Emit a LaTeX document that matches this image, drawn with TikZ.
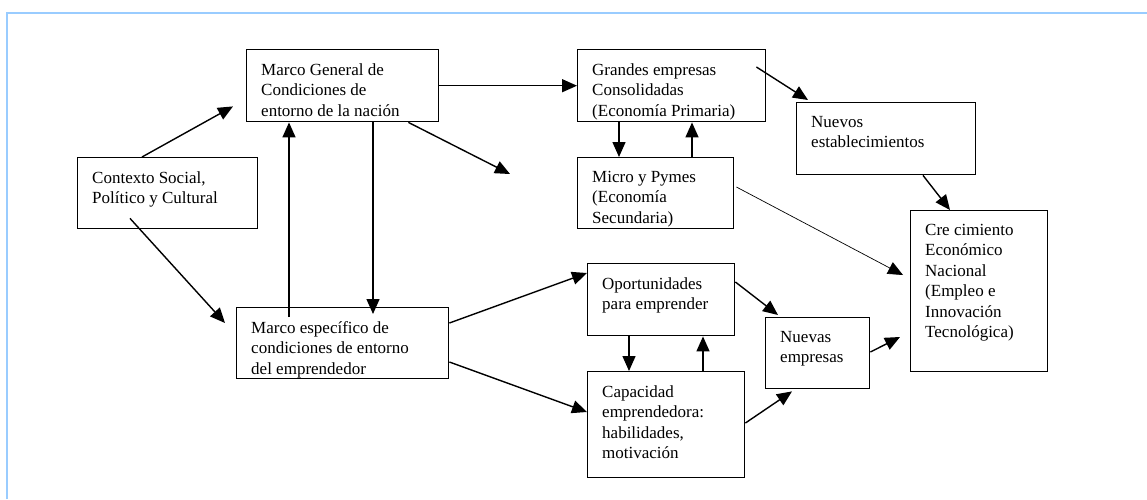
\documentclass[tikz,border=0pt]{standalone}
\usepackage{fontspec}
\setmainfont{Liberation Serif}
\usepackage{tikz}
\usetikzlibrary{arrows.meta,calc}
\definecolor{framebl}{RGB}{153,204,255}

\tikzset{
  box/.style={draw, line width=1.4pt, anchor=north west, inner sep=0pt},
  txt/.style={anchor=north west, align=left, inner xsep=15pt, inner ysep=14pt,
    font=\fontsize{17}{20.5}\selectfont},
  arr/.style={line width=1.4pt, -{Triangle[length=15pt,width=13pt]}},
}

\begin{document}
\begin{tikzpicture}[x=1pt, y=-1pt]
\useasboundingbox (0,0) rectangle (1147,499);
%%%%% Frame %%%%%
\draw[framebl, line width=2pt] (7,499) -- (7,13) -- (1147,13);
%%%%% Boxes %%%%%
\node[box, minimum width=180pt, minimum height=71pt] (ctx) at (77,157) {};
\node[box, minimum width=192pt, minimum height=72pt] (gen) at (246,49) {};
\node[box, minimum width=212pt, minimum height=71pt] (esp) at (236,307) {};
\node[box, minimum width=188pt, minimum height=72pt] (gra) at (577,49) {};
\node[box, minimum width=156pt, minimum height=71pt] (mic) at (577,157) {};
\node[box, minimum width=179pt, minimum height=72pt] (est) at (796,102) {};
\node[box, minimum width=137pt, minimum height=161pt] (cre) at (910,210) {};
\node[box, minimum width=147pt, minimum height=72pt] (opo) at (587,263) {};
\node[box, minimum width=157pt, minimum height=106pt] (cap) at (587,371) {};
\node[box, minimum width=104pt, minimum height=71pt] (nue) at (765,317) {};
%%%%% Texts %%%%%
\node[txt] (ctxt) at (ctx.north west) {Contexto Social,\\Político y Cultural};
\node[txt] (gent) at (gen.north west) {Marco General de\\Condiciones de\\entorno de la nación};
\node[txt] (espt) at (esp.north west) {Marco específico de\\condiciones de entorno\\del emprendedor};
\node[txt] (grat) at (gra.north west) {Grandes empresas\\Consolidadas\\(Economía Primaria)};
\node[txt] (mict) at (mic.north west) {Micro y Pymes\\(Economía\\Secundaria)};
\node[txt] (estt) at (est.north west) {Nuevos\\establecimientos};
\node[txt] (cret) at (cre.north west) {Cre cimiento\\Económico\\Nacional\\(Empleo e\\Innovación\\Tecnológica)};
\node[txt] (opot) at (opo.north west) {Oportunidades\\para emprender};
\node[txt] (capt) at (cap.north west) {Capacidad\\emprendedora:\\habilidades,\\motivación};
\node[txt] (nuet) at (nue.north west) {Nuevas\\empresas};
%%%%% Arrows %%%%%
\draw[arr] ($(ctx.north west)+(65,0)$) -- ($(gen.south west)+(-13,-16)$);
\draw[arr] ($(ctx.south west)+(53,-11)$) -- ($(esp.north west)+(-11,16)$);
\draw[arr] ($(esp.north west)+(53,10)$) coordinate (up) -- (up |- gen.south);
\draw[arr] ($(gen.south west)+(127,0)$) coordinate (dn) -- ($(dn |- esp.north)+(0,7)$);
\draw[arr] (gen.east) -- (gra.west);
\draw[arr] ($(gen.south east)+(-31,0)$) -- ($(mic.north west)+(-67,17)$);
\draw[arr] ($(gra.south west)+(42,0)$) coordinate (gm) -- (gm |- mic.north);
\draw[arr] ($(mic.north west)+(115,0)$) coordinate (mg) -- (mg |- gra.south);
\draw[arr] ($(gra.north east)+(-10,18)$) -- ($(est.north west)+(12,-2)$);
\draw[arr] ($(est.south west)+(127,0)$) -- ($(cre.north west)+(40,0)$);
\draw[line width=0.7pt, -{Triangle[length=15pt,width=13pt]}] ($(mic.north east)+(2,30)$) -- ($(cre.north west)+(-7,65)$);
\draw[arr] ($(esp.north east)+(0,16)$) -- ($(opo.north west)+(0,10)$);
\draw[arr] ($(esp.north east)+(0,55)$) -- ($(cap.north west)+(0,41)$);
\draw[arr] ($(opo.south west)+(42,0)$) coordinate (oc) -- (oc |- cap.north);
\draw[arr] ($(cap.north west)+(116,0)$) coordinate (co) -- (co |- opo.south);
\draw[arr] ($(opo.north east)+(0,19)$) -- ($(nue.north west)+(13,-2)$);
\draw[arr] ($(cap.north east)+(0,52)$) -- ($(nue.south west)+(27,2)$);
\draw[arr] ($(nue.north east)+(0,35)$) -- ($(cre.north west)+(-10,127)$);
\end{tikzpicture}
\end{document}
